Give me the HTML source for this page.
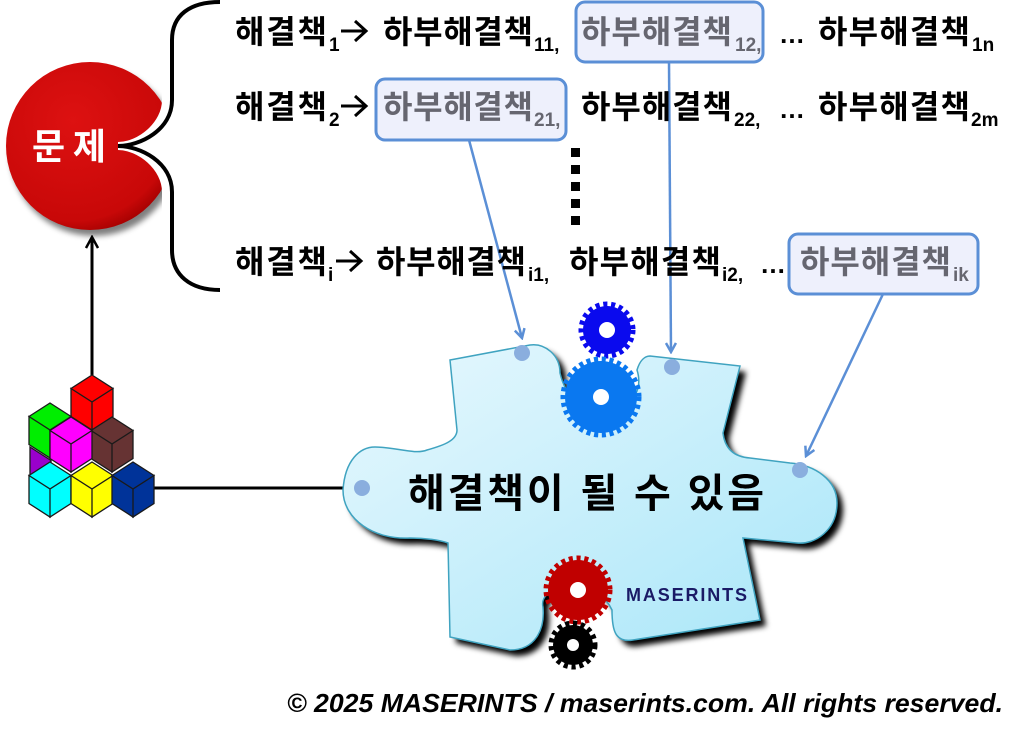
<!DOCTYPE html>
<html><head><meta charset="utf-8"><style>
html,body{margin:0;padding:0;background:#fff;}
svg{display:block;}
.k{font-family:"Liberation Sans","Noto Sans CJK KR",sans-serif;font-weight:bold;}
</style></head><body>
<svg width="1024" height="739" viewBox="0 0 1024 739" xmlns="http://www.w3.org/2000/svg">
<defs>
<linearGradient id="pz" x1="0" y1="0" x2="1" y2="1">
<stop offset="0" stop-color="#e8f8fe"/><stop offset="1" stop-color="#a8e6f8"/></linearGradient>
<radialGradient id="rb" cx="0.4" cy="0.35" r="0.7"><stop offset="0" stop-color="#dd1111"/><stop offset="0.85" stop-color="#c80808"/><stop offset="1" stop-color="#a00000"/></radialGradient>
<filter id="sh" x="-10%" y="-10%" width="130%" height="130%"><feGaussianBlur stdDeviation="3"/></filter>
<marker id="ar" markerWidth="12" markerHeight="12" refX="10" refY="6" orient="auto" markerUnits="userSpaceOnUse"><path d="M1,1 L10,6 L1,11" fill="none" stroke="#5b8fd6" stroke-width="2.5"/></marker>
<marker id="ak" markerWidth="14" markerHeight="14" refX="12" refY="7" orient="auto" markerUnits="userSpaceOnUse"><path d="M1,1 L12,7 L1,13" fill="none" stroke="#000" stroke-width="2.5"/></marker>
</defs>

<!-- red ball -->
<ellipse cx="94" cy="152" rx="84" ry="84" fill="#000" opacity="0.5" filter="url(#sh)"/>
<circle cx="90" cy="146" r="84" fill="url(#rb)"/>
<path d="M166,20 L166,100 C166,125 140,146 118,146 C140,146 166,167 166,192 L166,270 L260,270 L260,20 Z" fill="#fff" stroke="#fff" stroke-width="8"/>
<path d="M220,2 C190,2 172,15 172,40 L172,100 C172,130 140,146 118,146 C140,146 172,162 172,192 L172,250 C172,275 190,290 220,290" fill="none" stroke="#000" stroke-width="4"/>
<text x="32" y="159" class="k" font-size="36" fill="#fff" textLength="74">문제</text>

<line x1="92" y1="375" x2="92" y2="237" stroke="#000" stroke-width="3" marker-end="url(#ak)"/>
<line x1="150" y1="488" x2="346" y2="488" stroke="#000" stroke-width="3"/>

<!-- cubes -->
<g stroke="#1a1a1a" stroke-width="1.3">
<path d="M92,375 l21,13.5 l-21,13.5 l-21,-13.5 Z M71,388.5 l21,13.5 v28 l-21,-13.5 Z M113,388.5 l-21,13.5 v28 l21,-13.5 Z" fill="#ff0000"/>
<path d="M50,403 l21,13.5 l-21,13.5 l-21,-13.5 Z M29,416.5 l21,13.5 v28 l-21,-13.5 Z M71,416.5 l-21,13.5 v28 l21,-13.5 Z" fill="#00ee00"/>
<path d="M112,417 l21,13.5 l-21,13.5 l-21,-13.5 Z M91,430.5 l21,13.5 v28 l-21,-13.5 Z M133,430.5 l-21,13.5 v28 l21,-13.5 Z" fill="#663333"/>
<path d="M30,447 l21,13.5 v28 l-21,-13.5 Z" fill="#9900cc"/>
<path d="M71,417 l21,13.5 l-21,13.5 l-21,-13.5 Z M50,430.5 l21,13.5 v28 l-21,-13.5 Z M92,430.5 l-21,13.5 v28 l21,-13.5 Z" fill="#ff00ff"/>
<path d="M50,462 l21,13.5 l-21,13.5 l-21,-13.5 Z M29,475.5 l21,13.5 v28 l-21,-13.5 Z M71,475.5 l-21,13.5 v28 l21,-13.5 Z" fill="#00ffff"/>
<path d="M92,462 l21,13.5 l-21,13.5 l-21,-13.5 Z M71,475.5 l21,13.5 v28 l-21,-13.5 Z M113,475.5 l-21,13.5 v28 l21,-13.5 Z" fill="#ffff00"/>
<path d="M133,462 l21,13.5 l-21,13.5 l-21,-13.5 Z M112,475.5 l21,13.5 v28 l-21,-13.5 Z M154,475.5 l-21,13.5 v28 l21,-13.5 Z" fill="#003399"/>
</g>

<!-- puzzle -->
<path d="M450,360 L530,345 C545,343 560,355 560,373 C565,395 580,412 602,412 C625,412 645,395 637,370 C640,360 645,356 650,356 L740,366 L723,433 C725,450 735,457 750,458 L790,463 C815,465 837,480 837,503 C837,530 815,545 797,543 L743,538 L760,620 L633,640 C615,643 612,630 612,610 C605,595 590,585 578,585 C555,585 540,595 543,607 C545,630 535,650 510,650 L450,637 L448,543 C440,540 425,538 410,538 C375,540 343,520 343,490 C345,460 360,447 375,447 C395,447 415,455 427,450 C445,445 457,440 457,430 Z" fill="#000" transform="translate(6,6)" filter="url(#sh)"/>
<path d="M450,360 L530,345 C545,343 560,355 560,373 C565,395 580,412 602,412 C625,412 645,395 637,370 C640,360 645,356 650,356 L740,366 L723,433 C725,450 735,457 750,458 L790,463 C815,465 837,480 837,503 C837,530 815,545 797,543 L743,538 L760,620 L633,640 C615,643 612,630 612,610 C605,595 590,585 578,585 C555,585 540,595 543,607 C545,630 535,650 510,650 L450,637 L448,543 C440,540 425,538 410,538 C375,540 343,520 343,490 C345,460 360,447 375,447 C395,447 415,455 427,450 C445,445 457,440 457,430 Z" fill="url(#pz)" stroke="#3fa3c0" stroke-width="1.5"/>

<!-- gears -->
<g>
<circle cx="607" cy="330" r="24" fill="#0a0aee"/><circle cx="607" cy="330" r="25" fill="none" stroke="#0a0aee" stroke-width="7" stroke-dasharray="4 3.6"/><circle cx="607" cy="330" r="8" fill="#fff"/>
<circle cx="601" cy="397" r="36" fill="#0a78f0"/><circle cx="601" cy="397" r="37" fill="none" stroke="#0a78f0" stroke-width="7" stroke-dasharray="4 3.6"/><circle cx="601" cy="397" r="8" fill="#fff"/>
<circle cx="578" cy="590" r="30" fill="#c00000"/><circle cx="578" cy="590" r="31" fill="none" stroke="#c00000" stroke-width="7" stroke-dasharray="4 3.6"/><circle cx="578" cy="590" r="8" fill="#fff"/>
<circle cx="573" cy="645" r="20" fill="#000"/><circle cx="573" cy="645" r="21" fill="none" stroke="#000" stroke-width="7" stroke-dasharray="4 3.6"/><circle cx="573" cy="645" r="6" fill="#fff"/>
</g>
<text x="626" y="601" class="k" font-size="18" fill="#1a1a66" textLength="121">MASERINTS</text>
<text x="408" y="507" class="k" font-size="40" fill="#000" textLength="356">해결책이 될 수 있음</text>

<g fill="#8aaede"><circle cx="522" cy="353" r="8"/><circle cx="672" cy="367" r="8"/><circle cx="800" cy="470" r="8"/><circle cx="362" cy="488" r="8"/></g>

<!-- boxes -->
<g fill="#eef0fc" stroke="#5b8fd6" stroke-width="3">
<rect x="576" y="2" width="187" height="60" rx="9"/>
<rect x="376" y="79" width="190" height="61" rx="9"/>
<rect x="789" y="234" width="189" height="60" rx="9"/>
</g>
<g stroke="#5b8fd6" stroke-width="2.5" fill="none">
<line x1="469" y1="140" x2="522" y2="338" marker-end="url(#ar)"/>
<line x1="669" y1="62" x2="671" y2="352" marker-end="url(#ar)"/>
<line x1="883" y1="294" x2="806" y2="456" marker-end="url(#ar)"/>
</g>

<!-- arrows in rows -->
<g stroke="#000" stroke-width="3" fill="none">
<path d="M341,31 H365 M355,21 L366,31 L355,41"/>
<path d="M341,106 H365 M355,96 L366,106 L355,116"/>
<path d="M336,261 H360 M350,251 L361,261 L350,271"/>
</g>

<!-- rows -->
<g class="k" font-size="32" fill="#000">
<text x="235" y="43" textLength="92">해결책</text>
<text x="329" y="51" font-size="19">1</text>
<text x="383" y="43" textLength="150">하부해결책</text>
<text x="534" y="51" font-size="19">11,</text>
<text x="581" y="43" textLength="151" fill="#666670">하부해결책</text>
<text x="735" y="51" font-size="19" fill="#666670">12,</text>
<text x="779" y="43" font-size="26">…</text>
<text x="818" y="43" textLength="152">하부해결책</text>
<text x="972" y="51" font-size="19">1n</text>

<text x="235" y="118" textLength="92">해결책</text>
<text x="329" y="126" font-size="19">2</text>
<text x="383" y="118" textLength="150" fill="#666670">하부해결책</text>
<text x="534" y="126" font-size="19" fill="#666670">21,</text>
<text x="581" y="118" textLength="151">하부해결책</text>
<text x="734" y="126" font-size="19">22,</text>
<text x="779" y="118" font-size="26">…</text>
<text x="818" y="118" textLength="152">하부해결책</text>
<text x="971" y="126" font-size="19">2m</text>

<text x="235" y="273" textLength="92">해결책</text>
<text x="328" y="281" font-size="19">i</text>
<text x="376" y="273" textLength="150">하부해결책</text>
<text x="528" y="281" font-size="19">i1,</text>
<text x="569" y="273" textLength="152">하부해결책</text>
<text x="722" y="281" font-size="19">i2,</text>
<text x="760" y="273" font-size="26">…</text>
<text x="800" y="273" textLength="151" fill="#666670">하부해결책</text>
<text x="953" y="281" font-size="19" fill="#666670">ik</text>
</g>
<g fill="#000"><rect x="571" y="148" width="9" height="9"/><rect x="571" y="165" width="9" height="9"/><rect x="571" y="182" width="9" height="9"/><rect x="571" y="199" width="9" height="9"/><rect x="571" y="216" width="9" height="9"/></g>

<text x="287" y="712" font-family="Liberation Sans, sans-serif" font-style="italic" font-weight="bold" font-size="26" fill="#000" textLength="716" lengthAdjust="spacingAndGlyphs">© 2025 MASERINTS / maserints.com. All rights reserved.</text>
</svg>
</body></html>
